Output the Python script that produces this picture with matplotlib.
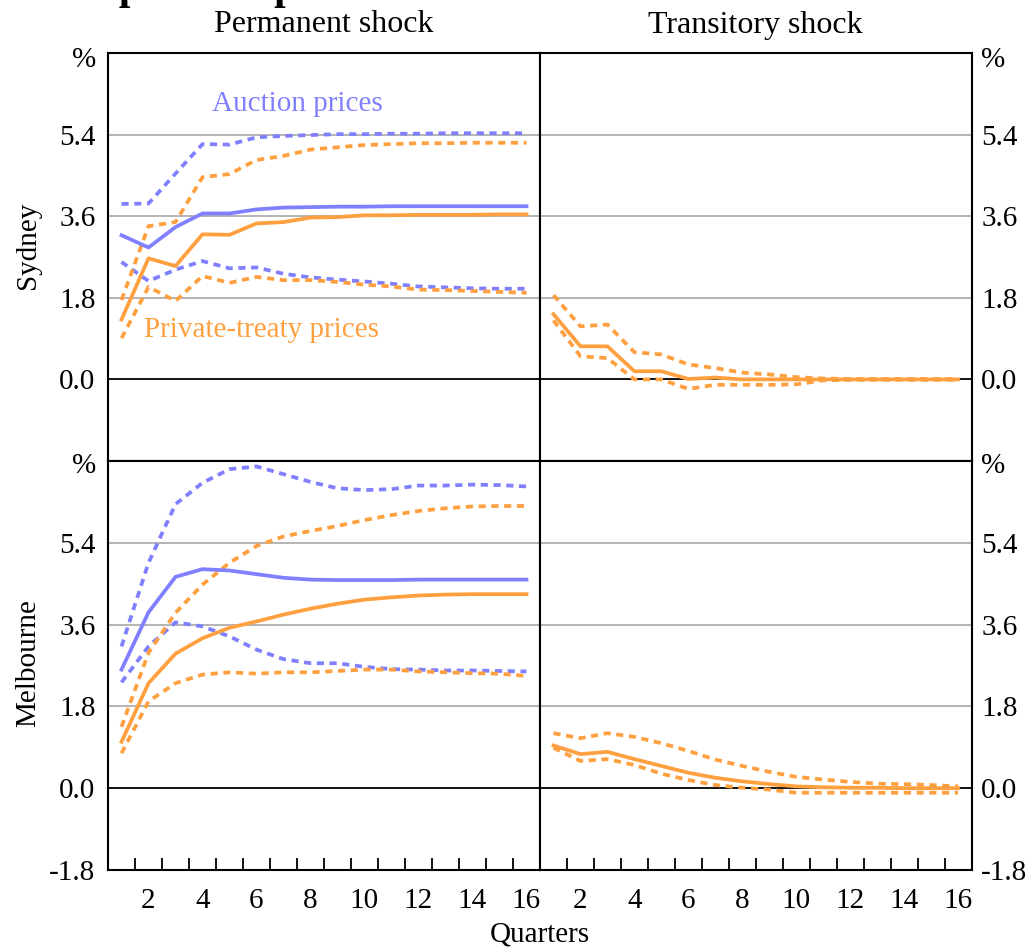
import matplotlib
matplotlib.use("Agg")
import matplotlib.pyplot as plt
import numpy as np

plt.rcParams['font.family'] = ['Liberation Serif', 'DejaVu Serif']

W, H = 1026, 949
quarters = list(range(1, 17))

# Sydney, permanent shock
syd_perm_auc = [3.18, 2.91, 3.36, 3.66, 3.66, 3.75, 3.79, 3.80, 3.81, 3.81, 3.82, 3.82, 3.82, 3.82, 3.82, 3.82]
syd_perm_auc_hi = [3.87, 3.88, 4.54, 5.19, 5.18, 5.34, 5.37, 5.39, 5.41, 5.41, 5.42, 5.42, 5.43, 5.43, 5.43, 5.43]
syd_perm_auc_lo = [2.59, 2.17, 2.42, 2.61, 2.45, 2.47, 2.33, 2.25, 2.20, 2.16, 2.11, 2.05, 2.03, 2.01, 2.00, 2.00]
syd_perm_pt = [1.32, 2.67, 2.50, 3.20, 3.19, 3.44, 3.47, 3.57, 3.58, 3.62, 3.62, 3.63, 3.63, 3.63, 3.64, 3.64]
syd_perm_pt_hi = [1.75, 3.38, 3.47, 4.46, 4.53, 4.84, 4.93, 5.07, 5.12, 5.17, 5.19, 5.21, 5.21, 5.22, 5.22, 5.22]
syd_perm_pt_lo = [0.91, 2.04, 1.73, 2.28, 2.13, 2.26, 2.19, 2.19, 2.15, 2.09, 2.05, 1.98, 1.97, 1.95, 1.93, 1.91]

# Sydney, transitory shock
syd_tran_pt = [1.44, 0.73, 0.73, 0.18, 0.18, 0.01, 0.04, 0.00, 0.00, 0.00, 0.00, 0.00, 0.00, 0.00, 0.00, 0.00]
syd_tran_pt_hi = [1.86, 1.17, 1.21, 0.60, 0.55, 0.33, 0.25, 0.15, 0.11, 0.05, 0.02, 0.01, 0.01, 0.01, 0.01, 0.01]
syd_tran_pt_lo = [1.30, 0.51, 0.47, 0.00, 0.00, -0.21, -0.12, -0.12, -0.12, -0.11, -0.02, -0.01, -0.01, -0.01, -0.01, -0.01]

# Melbourne, permanent shock
mel_perm_auc = [2.61, 3.87, 4.65, 4.82, 4.79, 4.71, 4.63, 4.59, 4.58, 4.58, 4.58, 4.59, 4.59, 4.59, 4.59, 4.59]
mel_perm_auc_hi = [3.12, 4.96, 6.25, 6.72, 7.02, 7.08, 6.91, 6.74, 6.60, 6.56, 6.58, 6.66, 6.66, 6.68, 6.67, 6.64]
mel_perm_auc_lo = [2.33, 3.12, 3.65, 3.56, 3.34, 3.05, 2.84, 2.75, 2.75, 2.67, 2.62, 2.61, 2.59, 2.59, 2.58, 2.57]
mel_perm_pt = [1.02, 2.31, 2.96, 3.30, 3.53, 3.67, 3.82, 3.95, 4.06, 4.15, 4.20, 4.24, 4.26, 4.27, 4.27, 4.27]
mel_perm_pt_hi = [1.35, 2.98, 3.86, 4.48, 4.96, 5.33, 5.54, 5.66, 5.77, 5.90, 6.01, 6.10, 6.16, 6.20, 6.21, 6.21]
mel_perm_pt_lo = [0.77, 1.91, 2.31, 2.50, 2.55, 2.52, 2.55, 2.55, 2.58, 2.61, 2.61, 2.57, 2.55, 2.53, 2.52, 2.47]

# Melbourne, transitory shock
mel_tran_pt = [0.94, 0.75, 0.80, 0.64, 0.49, 0.34, 0.23, 0.15, 0.09, 0.04, 0.02, 0.01, 0.01, 0.00, 0.00, 0.00]
mel_tran_pt_hi = [1.21, 1.10, 1.21, 1.13, 0.99, 0.82, 0.63, 0.49, 0.36, 0.25, 0.19, 0.14, 0.10, 0.09, 0.07, 0.04]
mel_tran_pt_lo = [0.89, 0.60, 0.64, 0.51, 0.32, 0.18, 0.07, 0.01, -0.03, -0.10, -0.10, -0.10, -0.10, -0.10, -0.10, -0.10]

col_titles = ["Permanent shock", "Transitory shock"]
row_titles = ["Sydney", "Melbourne"]
xtick_labels = ["2", "4", "6", "8", "10", "12", "14", "16"]

BLUE = "#8080ff"
ORANGE = "#ffa040"
LW = 2.7
DASH = (0, (1.9, 1.5))
FS = 21

fig = plt.figure(figsize=(W / 100, H / 100), dpi=100)


def rect(x0, y0, x1, y1):
    return [x0 / W, 1 - y1 / H, (x1 - x0) / W, (y1 - y0) / H]


xl, xm, xr = 108, 540, 971.5
yt, ym, yb = 53, 461, 870

axes = {
    (0, 0): fig.add_axes(rect(xl, yt, xm, ym)),
    (0, 1): fig.add_axes(rect(xm, yt, xr, ym)),
    (1, 0): fig.add_axes(rect(xl, ym, xm, yb)),
    (1, 1): fig.add_axes(rect(xm, ym, xr, yb)),
}

series = {
    (0, 0): [(syd_perm_auc, syd_perm_auc_hi, syd_perm_auc_lo, BLUE),
             (syd_perm_pt, syd_perm_pt_hi, syd_perm_pt_lo, ORANGE)],
    (0, 1): [(syd_tran_pt, syd_tran_pt_hi, syd_tran_pt_lo, ORANGE)],
    (1, 0): [(mel_perm_auc, mel_perm_auc_hi, mel_perm_auc_lo, BLUE),
             (mel_perm_pt, mel_perm_pt_hi, mel_perm_pt_lo, ORANGE)],
    (1, 1): [(mel_tran_pt, mel_tran_pt_hi, mel_tran_pt_lo, ORANGE)],
}

for (r, c), ax in axes.items():
    ax.set_xlim(0.5, 16.5)
    ax.set_ylim(-1.8, 7.2)
    for y in [1.8, 3.6, 5.4]:
        ax.axhline(y, color="#b4b4b4", lw=1.4, zorder=1)
    ax.axhline(0, color="black", lw=1.3, zorder=1)
    for mid, hi, lo, col in series[(r, c)]:
        ax.plot(quarters, hi, color=col, lw=LW, linestyle=DASH, zorder=3)
        ax.plot(quarters, lo, color=col, lw=LW, linestyle=DASH, zorder=3)
        ax.plot(quarters, mid, color=col, lw=LW, zorder=4)
    for s in ax.spines.values():
        s.set_linewidth(1.5)
        s.set_color("black")
    if r == 0:
        ax.set_yticks([0, 1.8, 3.6, 5.4])
        ax.set_yticklabels(["0.0", "1.8", "3.6", "5.4"])
    else:
        ax.set_yticks([-1.8, 0, 1.8, 3.6, 5.4])
        ax.set_yticklabels(["-1.8", "0.0", "1.8", "3.6", "5.4"])
    if c == 1:
        ax.yaxis.tick_right()
        ax.tick_params(axis="y", length=0, labelsize=FS, pad=7)
    else:
        ax.tick_params(axis="y", length=0, labelsize=FS, pad=9)
    # x axis
    ax.set_xticks(np.arange(2, 17, 2))
    ax.set_xticks(np.arange(1.5, 16, 1.0), minor=True)
    if r == 1:
        ax.set_xticklabels(xtick_labels)
        ax.tick_params(axis="x", which="major", length=0, labelsize=FS, pad=13)
        ax.tick_params(axis="x", which="minor", direction="in", length=9, width=1.3)
    else:
        ax.tick_params(axis="x", which="both", length=0, labelbottom=False)

# unit labels at the top of each panel
for ypix in [60, 466]:
    fig.text(96 / W, 1 - ypix / H, "%", fontsize=FS, ha="right", va="center")
    fig.text(981 / W, 1 - ypix / H, "%", fontsize=FS, ha="left", va="center")

axes[(0, 0)].text(7.5, 6.08, "Auction prices", color=BLUE, fontsize=FS, ha="center", va="center")
axes[(0, 0)].text(6.2, 1.08, "Private-treaty prices", color=ORANGE, fontsize=FS, ha="center", va="center")

fig.text((xl + xm) / 2 / W, 1 - 25 / H, col_titles[0], fontsize=FS + 2, ha="center", va="center")
fig.text((xm + xr) / 2 / W, 1 - 25 / H, col_titles[1], fontsize=FS + 2, ha="center", va="center")
fig.text(28 / W, 1 - 245 / H, row_titles[0], fontsize=FS, rotation=90, ha="center", va="center")
fig.text(28 / W, 1 - 663 / H, row_titles[1], fontsize=FS, rotation=90, ha="center", va="center")
fig.text(540 / W, 1 - 935 / H, "Quarters", fontsize=FS, ha="center", va="center")
fig.text(68 / W, 1 + 1 / H, "Impulse responses", fontsize=30, fontweight="bold", ha="left", va="baseline")

fig.savefig("out.png", dpi=100)
